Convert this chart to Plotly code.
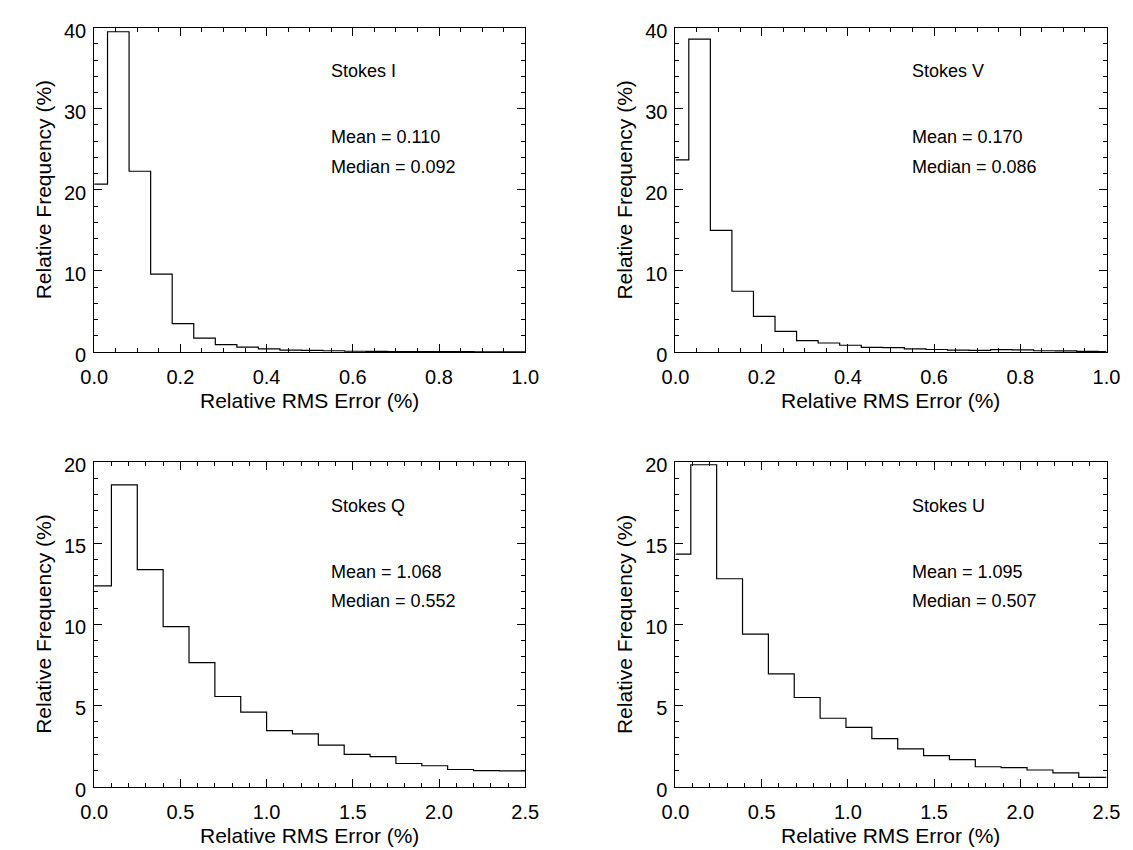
import plotly.graph_objects as go

# ---------------- data ----------------
titles = ["Stokes I", "Stokes V", "Stokes Q", "Stokes U"]
means = ["0.110", "0.170", "1.068", "1.095"]
medians = ["0.092", "0.086", "0.552", "0.507"]

# histogram step boundaries (Relative RMS Error, %) and relative frequencies (%)
I_steps = [0.031, 0.081, 0.131, 0.181, 0.231, 0.281, 0.331, 0.381, 0.431, 0.481,
           0.531, 0.581, 0.631, 0.681, 0.731, 0.781, 0.831, 0.881, 0.931, 0.981]
I_vals = [20.7, 39.5, 22.3, 9.6, 3.5, 1.72, 0.92, 0.6, 0.4, 0.25,
          0.22, 0.16, 0.1, 0.08, 0.07, 0.06, 0.05, 0.05, 0.04, 0.04, 0.04]

V_steps = [0.031, 0.081, 0.131, 0.181, 0.231, 0.281, 0.331, 0.381, 0.431, 0.481,
           0.531, 0.581, 0.631, 0.681, 0.731, 0.781, 0.831, 0.881, 0.931, 0.981]
V_vals = [23.7, 38.6, 15.0, 7.5, 4.4, 2.56, 1.4, 1.12, 0.84, 0.58,
          0.55, 0.4, 0.32, 0.24, 0.22, 0.3, 0.28, 0.16, 0.14, 0.08, 0.07]

Q_steps = [0.10, 0.25, 0.40, 0.55, 0.70, 0.85, 1.00, 1.15, 1.30, 1.45,
           1.60, 1.75, 1.90, 2.05, 2.20, 2.35]
Q_vals = [12.37, 18.6, 13.37, 9.86, 7.64, 5.55, 4.59, 3.45, 3.25, 2.55,
          1.98, 1.84, 1.42, 1.28, 1.05, 0.98, 0.96]

U_steps = [0.089, 0.239, 0.389, 0.539, 0.689, 0.839, 0.989, 1.139, 1.289, 1.439,
           1.589, 1.739, 1.889, 2.039, 2.189, 2.339]
U_vals = [14.33, 19.84, 12.81, 9.40, 6.95, 5.49, 4.21, 3.65, 2.95, 2.32,
          1.90, 1.66, 1.22, 1.16, 1.02, 0.84, 0.56]

x_title = "Relative RMS Error (%)"
y_title = "Relative Frequency (%)"

# ---------------- layout parameters ----------------
W, H = 1133, 850
FONT = "Liberation Sans, Arial, Helvetica, sans-serif"

panels = [
    # steps, vals, xmax, ymax, xdtick, xminor, ydtick, yminor, frame px (x0, x1, y0, y1)
    (I_steps, I_vals, 1.0, 40, 0.2, 0.05, 10, 2, (74, 516, 12, 345)),
    (V_steps, V_vals, 1.0, 40, 0.2, 0.05, 10, 2, (670, 1112, 12, 345)),
    (Q_steps, Q_vals, 2.5, 20, 0.5, 0.1, 5, 1, (74, 516, 458, 791)),
    (U_steps, U_vals, 2.5, 20, 0.5, 0.1, 5, 1, (670, 1112, 458, 791)),
]

fig = go.Figure()
annotations = []
layout_axes = {}

for i, (steps, vals, xmax, ymax, xdt, xmn, ydt, ymn, (px0, px1, py0, py1)) in enumerate(panels):
    n = i + 1
    xs = [0.0] + list(steps) + [xmax]
    ys = list(vals) + [vals[-1]]
    xa = "x" if n == 1 else f"x{n}"
    ya = "y" if n == 1 else f"y{n}"
    fig.add_trace(go.Scatter(x=xs, y=ys, mode="lines", line_shape="hv",
                             line=dict(color="black", width=1.2),
                             xaxis=xa, yaxis=ya, showlegend=False,
                             hoverinfo="skip", cliponaxis=True))
    xdom = [px0 / W, px1 / W]
    ydom = [1 - py1 / H, 1 - py0 / H]
    common = dict(showline=True, linecolor="black", linewidth=1, mirror="allticks",
                  ticks="inside", ticklen=8, tickwidth=1, tickcolor="black",
                  showgrid=False, zeroline=False,
                  tickfont=dict(family=FONT, size=20, color="black"))
    layout_axes["xaxis" if n == 1 else f"xaxis{n}"] = dict(
        domain=xdom, anchor=ya, range=[0, xmax], tick0=0, dtick=xdt,
        tickformat=".1f", ticklabelstandoff=7,
        minor=dict(ticks="inside", ticklen=4, dtick=xmn, tick0=0, tickcolor="black", showgrid=False),
        **common)
    layout_axes["yaxis" if n == 1 else f"yaxis{n}"] = dict(
        domain=ydom, anchor=xa, range=[0, ymax], tick0=0, dtick=ydt,
        ticklabelstandoff=3, ticklabelshift=3,
        minor=dict(ticks="inside", ticklen=4, dtick=ymn, tick0=0, tickcolor="black", showgrid=False),
        **common)

    # in-panel text
    tx = 0.545 * xmax
    ys_txt = [0.865 * ymax, 0.662 * ymax, 0.572 * ymax]
    for txt, yy in zip([titles[i], f"Mean = {means[i]}", f"Median = {medians[i]}"], ys_txt):
        annotations.append(dict(x=tx, y=yy, xref=xa, yref=ya, text=txt, showarrow=False,
                                xanchor="left", yanchor="middle",
                                font=dict(family=FONT, size=18, color="black")))

    # axis titles
    annotations.append(dict(x=(px0 + px1) / 2 / W, y=1 - (py1 + 50) / H, xref="paper", yref="paper",
                            text=x_title, showarrow=False, xanchor="center", yanchor="middle",
                            font=dict(family=FONT, size=21, color="black")))
    annotations.append(dict(x=(px0 - 52) / W, y=1 - (py0 + py1) / 2 / H, xref="paper", yref="paper",
                            text=y_title, showarrow=False, textangle=-90,
                            xanchor="center", yanchor="middle",
                            font=dict(family=FONT, size=21, color="black")))

fig.update_layout(width=W, height=H, margin=dict(l=0, r=0, t=0, b=0),
                  paper_bgcolor="white", plot_bgcolor="white",
                  annotations=annotations, **layout_axes)

fig.write_html("out.html")
